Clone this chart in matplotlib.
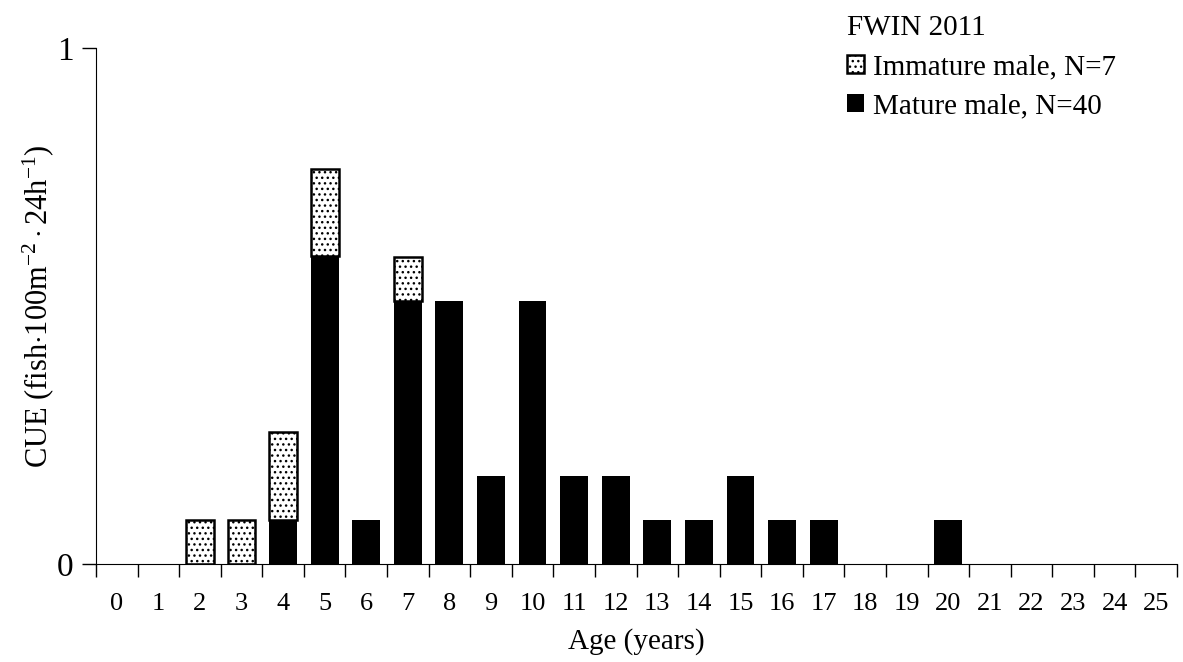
import matplotlib.pyplot as plt
import numpy as np

plt.rcParams['font.family'] = ['Liberation Serif', 'DejaVu Serif']
plt.rcParams['mathtext.fontset'] = 'custom'
plt.rcParams['mathtext.rm'] = 'Liberation Serif'
plt.rcParams['mathtext.it'] = 'Liberation Serif:italic'
plt.rcParams['hatch.linewidth'] = 1.0
plt.rcParams['hatch.color'] = '#666666'

ages = list(range(26))
mature = [0, 0, 0, 0, 0.085, 0.597, 0.085, 0.51, 0.51, 0.17, 0.51, 0.17, 0.17,
          0.085, 0.085, 0.17, 0.085, 0.085, 0, 0, 0.085, 0, 0, 0, 0, 0]
immature = [0, 0, 0.085, 0.085, 0.171, 0.169, 0, 0.085, 0, 0, 0, 0, 0,
            0, 0, 0, 0, 0, 0, 0, 0, 0, 0, 0, 0, 0]

fig = plt.figure(figsize=(11.83, 6.62), dpi=100)
ax = fig.add_axes([96 / 1183, 1 - 564 / 662, (1177 - 96) / 1183, (564 - 48) / 662])

x = np.array(ages)
mat = np.array(mature)
imm = np.array(immature)
m_on = mat > 0
i_on = imm > 0
ax.bar(x[m_on], mat[m_on], width=0.67, color='black', edgecolor='black', linewidth=0,
       label='Mature male, N=40')
ax.bar(x[i_on], imm[i_on], width=0.67, bottom=mat[i_on], color='white', edgecolor='black',
       hatch='...', linewidth=1.8, label='Immature male, N=7')

ax.set_xlim(-0.5, 25.5)
ax.set_ylim(0, 1)
ax.spines['top'].set_visible(False)
ax.spines['right'].set_visible(False)

ax.set_xticks(x)
ax.set_xticklabels([str(a) for a in ages], fontsize=19)
ax.set_xticks(np.arange(-0.5, 26, 1), minor=True)
ax.tick_params(axis='x', which='major', length=0, pad=21)
ax.tick_params(axis='x', which='minor', length=9, direction='out', width=1)
ax.set_yticks([0, 1])
ax.set_yticklabels(['0', '1'], fontsize=24)
ax.tick_params(axis='y', length=10, width=1, pad=6)

ax.set_xlabel('Age (years)', fontsize=21, labelpad=9)
ax.set_ylabel(r'CUE (fish$\cdot$100m$^{-2}\cdot$24h$^{-1}$)', fontsize=22, labelpad=1)

handles, labels = ax.get_legend_handles_labels()
leg = ax.legend(handles[::-1], labels[::-1], title='FWIN 2011', loc='upper left',
                bbox_to_anchor=(0.681, 1.092), frameon=False, fontsize=21,
                title_fontsize=21, handlelength=0.6, handleheight=0.6,
                handletextpad=0.3, labelspacing=0.45, borderpad=0)
leg._legend_box.align = 'left'

fig.savefig('out.png', dpi=100)
